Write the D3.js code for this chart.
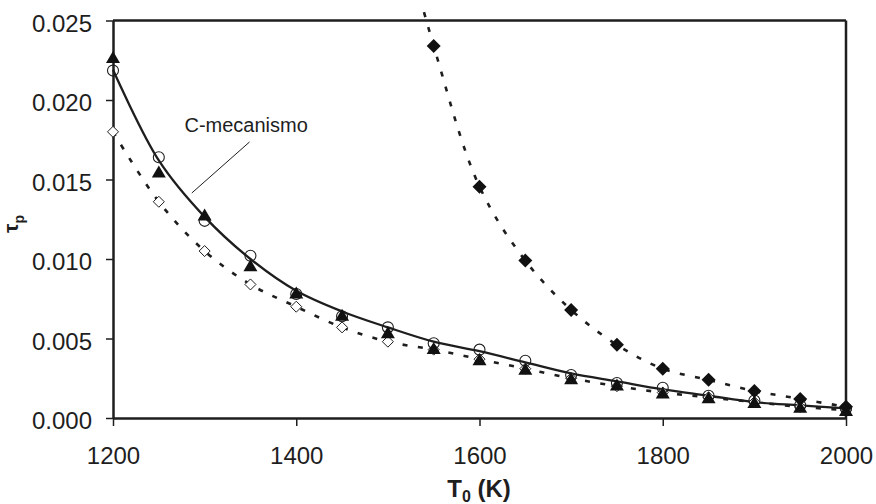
<!DOCTYPE html>
<html>
<head>
<meta charset="utf-8">
<script src="https://cdn.jsdelivr.net/npm/d3@7"></script>
<style>
  body { margin: 0; background: #fff; }
  text { font-family: "Liberation Sans", Arial, sans-serif; }
</style>
</head>
<body>
<div id="chart"></div>
<script>
// temperatures (K)
let temps = [1200, 1250, 1300, 1350, 1400, 1450, 1500, 1550, 1600, 1650, 1700, 1750, 1800, 1850, 1900, 1950, 2000];

// open circles
let circles = [0.02185, 0.0164, 0.0124, 0.0102, 0.0078, 0.0064, 0.0057, 0.0047, 0.0043, 0.0036, 0.0027, 0.0022, 0.0019, 0.0014, 0.0011, 0.0008, 0.0006];
// solid curve (C-mecanismo)
let solidCurve = [0.0219, 0.0162, 0.01265, 0.0100, 0.0080, 0.0067, 0.0057, 0.0048, 0.0042, 0.0035, 0.0028, 0.0023, 0.0018, 0.0014, 0.0010, 0.0008, 0.0006];
// filled triangles
let triangles = [0.0227, 0.0155, 0.0128, 0.0096, 0.0079, 0.0065, 0.0054, 0.0044, 0.0037, 0.0031, 0.0025, 0.0021, 0.0016, 0.0013, 0.0010, 0.0007, 0.0005];
// open diamonds
let openDiamonds = [0.0180, 0.0136, 0.0105, 0.0084, 0.0070, 0.0057, 0.0048, 0.0043, 0.0037, 0.0031, 0.0025, 0.0020, 0.0016, 0.0013, 0.0010, 0.0007, 0.0005];
// filled diamonds (first point is above the axis range)
let fdTemps = [1500, 1550, 1600, 1650, 1700, 1750, 1800, 1850, 1900, 1950, 2000];
let filledDiamonds = [0.034, 0.0234, 0.01455, 0.0099, 0.0068, 0.0046, 0.0031, 0.0024, 0.0017, 0.0012, 0.0007];

let xTicks = [1200, 1400, 1600, 1800, 2000];
let yTicks = [0, 0.005, 0.010, 0.015, 0.020, 0.025];

// annotation: label anchor and leader line ends, in data units
let noteText = "C-mecanismo";
let notePos = [1278, 0.0180];
let noteLine = [[1349, 0.01736], [1286, 0.01415]];

let svgWidth = 876;
let svgHeight = 504;
let margin = { top: 20.5, right: 30, bottom: 86, left: 113 };
let width = svgWidth - margin.left - margin.right;
let height = svgHeight - margin.top - margin.bottom;

let svg = d3.select("#chart").append("svg")
  .attr("width", svgWidth)
  .attr("height", svgHeight);

let g = svg.append("g")
  .attr("transform", `translate(${margin.left},${margin.top})`);

let x = d3.scaleLinear().domain([1200, 2000]).range([0, width]);
let y = d3.scaleLinear().domain([0, 0.025]).range([height, 0]);

g.append("clipPath").attr("id", "clip")
  .append("rect")
  .attr("x", -10).attr("y", -9)
  .attr("width", width + 20).attr("height", height + 9);

let ink = "#1e1e1e";

// axes
let xAxis = d3.axisBottom(x).tickValues(xTicks).tickSize(8).tickSizeOuter(0).tickPadding(21).tickFormat(d3.format("d"));
let yAxis = d3.axisLeft(y).tickValues(yTicks).tickSize(7).tickSizeOuter(0).tickPadding(14).tickFormat(d3.format(".3f"));

let gx = g.append("g").attr("transform", `translate(0,${height})`).call(xAxis);
let gy = g.append("g").call(yAxis);

[gx, gy].forEach(a => {
  a.select(".domain").attr("stroke", ink).attr("stroke-width", 2.5);
  a.selectAll(".tick line").attr("stroke", ink).attr("stroke-width", 1.5);
  a.selectAll(".tick text").attr("fill", ink).attr("font-size", 24)
    .attr("font-family", "'Liberation Sans', Arial, sans-serif");
});
gy.selectAll(".tick text").attr("dy", "0.45em");

// top and right frame
g.append("line").attr("x1", x(1200)).attr("x2", x(2000)).attr("y1", y(0.025)).attr("y2", y(0.025))
  .attr("stroke", ink).attr("stroke-width", 2.5);
g.append("line").attr("x1", x(2000)).attr("x2", x(2000)).attr("y1", y(0.025)).attr("y2", y(0))
  .attr("stroke", ink).attr("stroke-width", 2.5);

// axis titles
let yt = svg.append("text")
  .attr("transform", "translate(18,224) rotate(-90)")
  .attr("text-anchor", "middle")
  .attr("font-weight", "bold")
  .attr("font-size", 21)
  .attr("fill", ink);
yt.append("tspan").text("τ");
yt.append("tspan").attr("font-size", 14).attr("dy", 6).text("p");

let xt = svg.append("text")
  .attr("x", 479).attr("y", 497)
  .attr("text-anchor", "middle")
  .attr("font-weight", "bold")
  .attr("font-size", 24)
  .attr("fill", ink);
xt.append("tspan").text("T");
xt.append("tspan").attr("font-size", 16).attr("dy", 5).text("0");
xt.append("tspan").attr("dy", -5).text(" (K)");

// lines
let plot = g.append("g").attr("clip-path", "url(#clip)");

let lineGen = d3.line()
  .x(d => x(d[0]))
  .y(d => y(d[1]))
  .curve(d3.curveCatmullRom.alpha(0.5));

plot.append("path")
  .datum(d3.zip(temps, openDiamonds))
  .attr("d", lineGen)
  .attr("fill", "none").attr("stroke", ink).attr("stroke-width", 2.6)
  .attr("stroke-dasharray", "5,10.5");

plot.append("path")
  .datum(d3.zip(fdTemps, filledDiamonds))
  .attr("d", lineGen)
  .attr("fill", "none").attr("stroke", ink).attr("stroke-width", 2.6)
  .attr("stroke-dasharray", "5,10.5");

plot.append("path")
  .datum(d3.zip(temps, solidCurve))
  .attr("d", lineGen)
  .attr("fill", "none").attr("stroke", ink).attr("stroke-width", 2.3);

// markers
let marks = g.append("g").attr("clip-path", "url(#clip)");

marks.selectAll(".odia")
  .data(d3.zip(temps, openDiamonds))
  .enter().append("path")
  .attr("class", "odia")
  .attr("transform", d => `translate(${x(d[0])},${y(d[1])})`)
  .attr("d", "M0,-5.5L5.5,0L0,5.5L-5.5,0Z")
  .attr("fill", "#fff").attr("stroke", ink).attr("stroke-width", 1);

marks.selectAll("circle")
  .data(d3.zip(temps, circles))
  .enter().append("circle")
  .attr("cx", d => x(d[0]))
  .attr("cy", d => y(d[1]))
  .attr("r", 5.5)
  .attr("fill", "none").attr("stroke", ink).attr("stroke-width", 1.1);

marks.selectAll(".tri")
  .data(d3.zip(temps, triangles))
  .enter().append("path")
  .attr("class", "tri")
  .attr("transform", d => `translate(${x(d[0])},${y(d[1])})`)
  .attr("d", "M0,-6L7,6L-7,6Z")
  .attr("fill", "#111");

marks.selectAll(".fdia")
  .data(d3.zip(fdTemps, filledDiamonds))
  .enter().append("path")
  .attr("class", "fdia")
  .attr("transform", d => `translate(${x(d[0])},${y(d[1])})`)
  .attr("d", "M0,-7L7,0L0,7L-7,0Z")
  .attr("fill", "#111");

// annotation
g.append("text")
  .attr("x", x(notePos[0])).attr("y", y(notePos[1]))
  .attr("font-size", 20)
  .attr("fill", ink)
  .text(noteText);

g.append("line")
  .attr("x1", x(noteLine[0][0])).attr("y1", y(noteLine[0][1]))
  .attr("x2", x(noteLine[1][0])).attr("y2", y(noteLine[1][1]))
  .attr("stroke", ink).attr("stroke-width", 1);
</script>
</body>
</html>
